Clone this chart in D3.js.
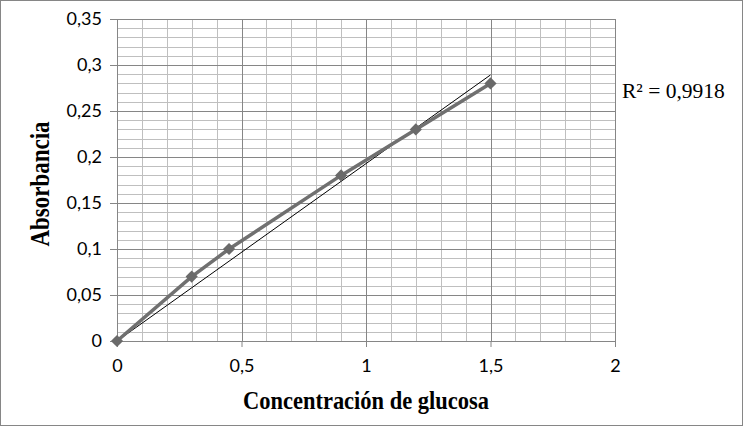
<!DOCTYPE html>
<html>
<head>
<meta charset="utf-8">
<script src="https://cdn.jsdelivr.net/npm/d3@7"></script>
<style>
  body { margin: 0; background: #fff; }
  svg { display: block; }
</style>
</head>
<body>
<svg id="chart" width="747" height="427"></svg>
<script>
// data
var concentracion = [0, 0.3, 0.45, 0.9, 1.2, 1.5]
var absorbancia = [0, 0.07, 0.1, 0.18, 0.23, 0.28]
var xTicks = [0, 0.5, 1, 1.5, 2]
var yTicks = [0, 0.05, 0.1, 0.15, 0.2, 0.25, 0.3, 0.35]
var r2Label = "R² = 0,9918"

var svg = d3.select("#chart")
var margin = {top: 19, right: 132, bottom: 86, left: 117}
var width = 747 - margin.left - margin.right,
    height = 427 - margin.top - margin.bottom

var x = d3.scaleLinear().domain([0, 2]).range([0, width])
var y = d3.scaleLinear().domain([0, 0.35]).range([height, 0])
var fmt = function(d) { return String(+d.toFixed(2)).replace(".", ",") }

// outer border
svg.append("rect")
  .attr("x", 0.5).attr("y", 0.5)
  .attr("width", 742).attr("height", 425)
  .attr("fill", "#fff").attr("stroke", "#868686")

var g = svg.append("g").attr("transform", "translate(" + margin.left + "," + margin.top + ")")

// minor grid
var minorX = d3.range(0, 2.0001, 0.1), minorY = d3.range(0, 0.3501, 0.01)
g.append("g").selectAll("line").data(minorX).enter().append("line")
  .attr("x1", function(d) { return Math.round(x(d)) + 0.5 })
  .attr("x2", function(d) { return Math.round(x(d)) + 0.5 })
  .attr("y1", 0).attr("y2", height)
  .attr("stroke", "#bfbfbf")
g.append("g").selectAll("line").data(minorY).enter().append("line")
  .attr("y1", function(d) { return Math.round(y(d)) + 0.5 })
  .attr("y2", function(d) { return Math.round(y(d)) + 0.5 })
  .attr("x1", 0).attr("x2", width)
  .attr("stroke", "#bfbfbf")

// major grid
g.append("g").selectAll("line").data(xTicks).enter().append("line")
  .attr("x1", function(d) { return Math.round(x(d)) + 0.5 })
  .attr("x2", function(d) { return Math.round(x(d)) + 0.5 })
  .attr("y1", 0).attr("y2", height)
  .attr("stroke", "#868686")
g.append("g").selectAll("line").data(yTicks).enter().append("line")
  .attr("y1", function(d) { return Math.round(y(d)) + 0.5 })
  .attr("y2", function(d) { return Math.round(y(d)) + 0.5 })
  .attr("x1", 0).attr("x2", width)
  .attr("stroke", "#868686")

// axes
var xAxis = g.append("g").attr("transform", "translate(0," + height + ")")
  .call(d3.axisBottom(x).tickValues(xTicks).tickFormat(fmt).tickSize(6).tickPadding(12))
var yAxis = g.append("g")
  .call(d3.axisLeft(y).tickValues(yTicks).tickFormat(fmt).tickSize(7).tickPadding(8))
;[xAxis, yAxis].forEach(function(a) {
  a.selectAll("path, line").attr("stroke", "#868686")
  a.selectAll("text").attr("fill", "#000")
    .style("font-family", "Lato, 'Open Sans', sans-serif").style("font-size", "18px")
})

// trendline, linear through the origin
var slope = d3.sum(concentracion, function(c, i) { return c * absorbancia[i] }) /
            d3.sum(concentracion, function(c) { return c * c })
var xMax = d3.max(concentracion)
g.append("line")
  .attr("x1", x(0)).attr("y1", y(0))
  .attr("x2", x(xMax)).attr("y2", y(slope * xMax))
  .attr("stroke", "#000").attr("stroke-width", 1)

var pts = concentracion.map(function(c, i) { return [c, absorbancia[i]] })
g.append("path").datum(pts)
  .attr("fill", "none").attr("stroke", "#707070").attr("stroke-width", 3.5)
  .attr("stroke-linejoin", "round")
  .attr("d", d3.line().x(function(d) { return x(d[0]) }).y(function(d) { return y(d[1]) }))

g.selectAll(".pt").data(pts).enter().append("path")
  .attr("class", "pt")
  .attr("transform", function(d) { return "translate(" + x(d[0]) + "," + y(d[1]) + ")" })
  .attr("d", d3.symbol().type(d3.symbolDiamond2).size(95))
  .attr("fill", "#6a6a6a")

// labels
svg.append("text")
  .attr("transform", "translate(" + (margin.left + width / 2) + ",409) scale(1,1.15)")
  .attr("text-anchor", "middle")
  .style("font-family", "'Liberation Serif', serif").style("font-weight", "bold").style("font-size", "22.5px")
  .text("Concentración de glucosa")
svg.append("text")
  .attr("transform", "translate(49," + (margin.top + height / 2 + 4) + ") rotate(-90) scale(1,1.15)")
  .attr("text-anchor", "middle")
  .style("font-family", "'Liberation Serif', serif").style("font-weight", "bold").style("font-size", "23px")
  .text("Absorbancia")
svg.append("text")
  .attr("x", 622).attr("y", 98)
  .style("font-family", "'Liberation Serif', serif").style("font-size", "21.5px")
  .text(r2Label)
</script>
</body>
</html>
